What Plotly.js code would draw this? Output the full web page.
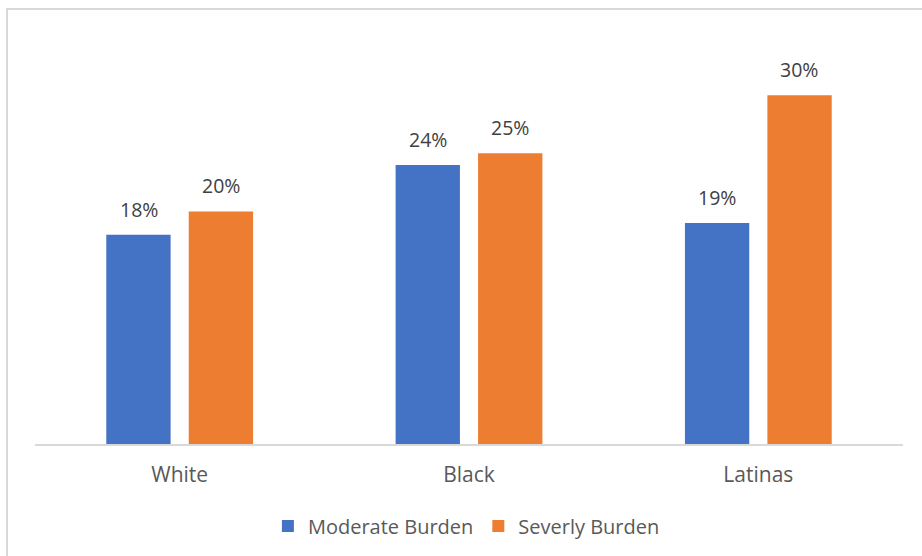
<!DOCTYPE html>
<html>
<head>
<meta charset="utf-8">
<script src="https://cdn.plot.ly/plotly-3.0.1.min.js"></script>
<style>
  html, body { margin: 0; padding: 0; background: #fff; overflow: hidden; }
  #chart { width: 922px; height: 556px; }
  #frame {
    position: absolute; left: 6px; top: 8px; width: 940px; height: 580px;
    border-left: 2px solid #d9d9d9; border-top: 2px solid #d9d9d9;
    pointer-events: none;
  }
</style>
</head>
<body>
<div id="chart"></div>
<div id="frame"></div>
<script>
// Share of women facing housing cost burden, by group
const categories = ["White", "Black", "Latinas"];
const moderateBurden = [18, 24, 19];
const severeBurden = [20, 25, 30];
const seriesNames = ["Moderate Burden", "Severly Burden"];

const colors = ["#4472C4", "#ED7D31"];
const labelFont = { family: "Open Sans, sans-serif", size: 19.5, color: "#404040" };

const traces = [moderateBurden, severeBurden].map((vals, i) => ({
  type: "bar",
  name: seriesNames[i],
  x: categories,
  y: vals,
  marker: { color: colors[i] },
  hoverinfo: "skip"
}));

// Value labels placed above each bar, at the bar's own value
const annotations = [];
[moderateBurden, severeBurden].forEach((vals, i) => {
  vals.forEach((v, j) => {
    annotations.push({
      x: categories[j], y: v, xref: "x", yref: "y",
      text: v + "%", showarrow: false,
      xanchor: "center", yanchor: "bottom",
      xshift: (i === 0 ? -41 : 41), yshift: 10,
      font: labelFont
    });
  });
});

const layout = {
  width: 922, height: 556,
  margin: { l: 35, r: 19, t: 37, b: 111.5 },
  paper_bgcolor: "#ffffff",
  plot_bgcolor: "#ffffff",
  barmode: "group",
  bargap: 0.43,
  bargroupgap: 0.22,
  showlegend: true,
  legend: {
    orientation: "h", xref: "paper", x: 0.497, xanchor: "center",
    yref: "container", y: 0.054, yanchor: "middle",
    font: { family: "Open Sans, sans-serif", size: 20, color: "#595959" },
    itemwidth: 30, traceorder: "normal"
  },
  xaxis: {
    showline: true, linecolor: "#d9d9d9", linewidth: 1.5,
    ticks: "", showgrid: false, zeroline: false, automargin: false,
    tickfont: { family: "Open Sans, sans-serif", size: 21, color: "#595959" },
    ticklabelstandoff: 11
  },
  yaxis: {
    range: [0, 35], visible: false, showgrid: false, zeroline: false
  },
  annotations: annotations
};

Plotly.newPlot("chart", traces, layout, { displayModeBar: false, staticPlot: true });
</script>
</body>
</html>
